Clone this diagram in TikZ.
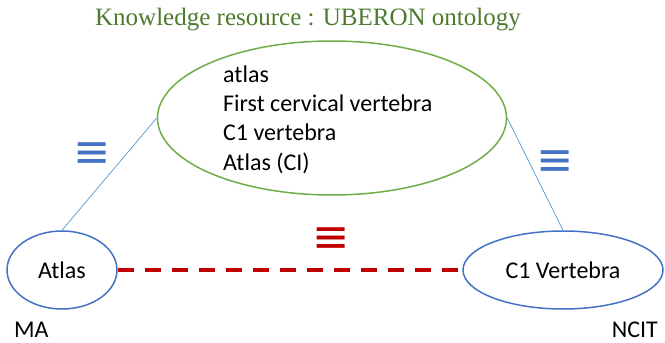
\documentclass[tikz,border=0pt]{standalone}
\usepackage{fontspec}
\setmainfont{Carlito}
\newfontfamily\titlefont{Liberation Serif}
\newfontfamily\symfont{DejaVu Sans}
\usetikzlibrary{shapes.geometric}
\definecolor{ttlgreen}{HTML}{4E7A2E}
\definecolor{ellgreen}{HTML}{70AD47}
\definecolor{ellblue}{HTML}{4472C4}
\definecolor{lnblue}{HTML}{5B9BD5}
\definecolor{dkred}{HTML}{C00000}
\newcommand{\eqglyph}{\scalebox{1.35}[1.4]{≡}}
\tikzset{
  bodytext/.style={font=\fontsize{24}{29.3}\selectfont, inner sep=0pt},
  ontoell/.style={ellipse, draw=ellblue, line width=1.5pt, inner sep=0pt, font=\fontsize{24}{29.3}\selectfont},
  kbell/.style={ellipse, draw=ellgreen, line width=1.5pt, inner sep=0pt},
  eqsign/.style={font=\symfont\fontsize{33}{33}\selectfont, inner sep=0pt},
  link/.style={draw=lnblue, line width=0.75pt},
  matchline/.style={draw=dkred, line width=4pt, dash pattern=on 16pt off 11pt}
}
\begin{document}
\begin{tikzpicture}[x=1pt,y=-1pt]
\useasboundingbox (0,0) rectangle (665,343);
\node[anchor=base, inner sep=0pt, text=ttlgreen, font=\titlefont\fontsize{25}{30}\selectfont] (title) at (308,25) {Knowledge resource : UBERON ontology};
\node[kbell, minimum width=349pt, minimum height=154pt] (kb) at (332,118) {};
\node[bodytext, anchor=base west, align=left] (kbtext) at (223,170) {atlas\\First cervical vertebra\\C1 vertebra\\Atlas (CI)};
\node[ontoell, minimum width=110pt, minimum height=78pt] (atlas) at (62,270) {Atlas};
\node[ontoell, minimum width=200pt, minimum height=78pt] (c1) at (563,270) {C1 Vertebra};
\draw[link] (kb.west) -- (atlas.north);
\draw[link] (kb.east) -- (c1.north);
\draw[matchline] (atlas.east) -- (c1.west);
\node[eqsign, text=ellblue] (eqleft) at (92,155) {\eqglyph};
\node[eqsign, text=ellblue] (eqright) at (555,163) {\eqglyph};
\node[eqsign, text=dkred] (eqmid) at (331,240) {\eqglyph};
\node[bodytext, anchor=base west] (ma) at (14,337) {MA};
\node[bodytext, anchor=base east] (ncit) at (658,337) {NCIT};
\end{tikzpicture}
\end{document}
